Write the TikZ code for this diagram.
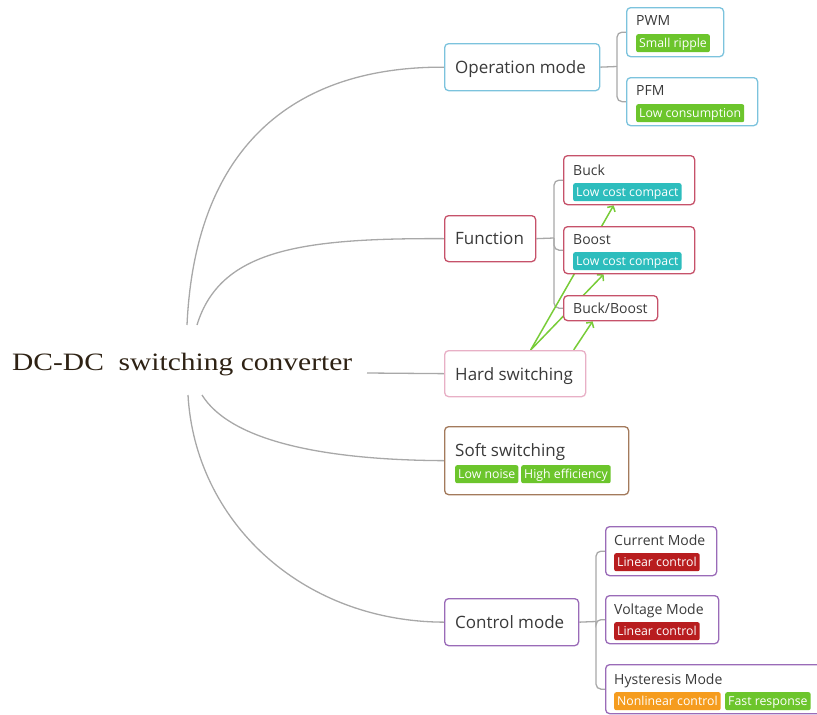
\documentclass[tikz,border=0pt]{standalone}
\usepackage{fontspec}
\setmainfont{Open Sans}
\newfontfamily\rootfont[FakeStretch=1.18]{Liberation Serif}
\usetikzlibrary{arrows.meta,calc}
\definecolor{conn}{HTML}{A8A8A8}
\definecolor{txt}{HTML}{3A3A3A}
\definecolor{roottxt}{HTML}{2E2214}
\definecolor{cblue}{HTML}{7CC3DD}
\definecolor{cred}{HTML}{C6526A}
\definecolor{cpink}{HTML}{E8B0C6}
\definecolor{cbrown}{HTML}{A37A5C}
\definecolor{cpurple}{HTML}{9A6BB8}
\definecolor{tgreen}{HTML}{6CC52C}
\definecolor{tteal}{HTML}{2DBDBD}
\definecolor{tred}{HTML}{B81D1F}
\definecolor{torange}{HTML}{F59C1E}
\definecolor{agreen}{HTML}{78CC38}
\pgfdeclarelayer{bg}
\pgfsetlayers{bg,main}
\begin{document}
\begin{tikzpicture}[x=1pt,y=-1pt,
  box/.style={draw=#1, line width=1.3pt, rounded corners=4pt, fill=white, anchor=north west, inner sep=0pt},
  maintxt/.style={font=\fontsize{17}{20}\selectfont, text=txt, anchor=base west, inner sep=0pt},
  subtxt/.style={font=\fontsize{14}{17}\selectfont, text=txt, anchor=base west, inner sep=0pt},
  tag/.style={fill=#1, text=white, rounded corners=2pt, anchor=north west, font=\fontsize{12.3}{14}\selectfont, inner xsep=3pt, inner ysep=0pt, text height=13pt, text depth=5pt},
  link/.style={draw=conn, line width=1.3pt},
  hsarrow/.style={draw=agreen, line width=1.5pt, -{Straight Barb[length=4pt,width=9pt,line width=1.5pt]}}
]
\useasboundingbox (0,0) rectangle (817,715);

% root
\node[anchor=base west, inner sep=0pt, text=roottxt, font=\rootfont\fontsize{25}{30}\selectfont] (root) at (12,370) {DC-DC\ \ switching converter};
\coordinate (r1) at (187,325);
\coordinate (r2) at (197,325);
\coordinate (r3) at (367,373);
\coordinate (r4) at (202,395);
\coordinate (r5) at (188,395);

% main boxes
\node[box=cblue, minimum width=155, minimum height=47] (op) at (444,43) {};
\node[maintxt] (opt) at (455,73) {Operation mode};
\node[box=cred, minimum width=91, minimum height=46] (fn) at (444,215) {};
\node[maintxt] (fnt) at (455,244) {Function};
\node[box=cpink, minimum width=141, minimum height=46] (hs) at (444,350) {};
\node[maintxt] (hst) at (455,380) {Hard switching};
\node[box=cbrown, minimum width=184, minimum height=68] (ss) at (444,426) {};
\node[maintxt] (sst) at (455,456) {Soft switching};
\node[tag=tgreen] (ss1) at (455,465) {Low noise};
\node[tag=tgreen] (ss2) at (521,465) {High efficiency};
\node[box=cpurple, minimum width=134, minimum height=47] (cm) at (444,598) {};
\node[maintxt] (cmt) at (455,628) {Control mode};

% operation mode children
\node[box=cblue, minimum width=97, minimum height=49] (pwm) at (626,7) {};
\node[subtxt] (pwmt) at (636,25) {PWM};
\node[tag=tgreen] (pwmg) at (636,34) {Small ripple};
\node[box=cblue, minimum width=131, minimum height=48] (pfm) at (626,77) {};
\node[subtxt] (pfmt) at (636,95) {PFM};
\node[tag=tgreen] (pfmg) at (636,104) {Low consumption};

% function children
\node[box=cred, minimum width=131, minimum height=49] (buck) at (563,155) {};
\node[subtxt] (buckt) at (573,175) {Buck};
\node[tag=tteal] (buckg) at (573,183) {Low cost compact};
\node[box=cred, minimum width=131, minimum height=47] (boost) at (563,226) {};
\node[subtxt] (boostt) at (573,244) {Boost};
\node[tag=tteal] (boostg) at (573,252) {Low cost compact};
\node[box=cred, minimum width=94, minimum height=25] (bb) at (563,295) {};
\node[subtxt] (bbt) at (573,313) {Buck/Boost};

% control mode children
\node[box=cpurple, minimum width=111, minimum height=49] (cur) at (605,526) {};
\node[subtxt] (curt) at (614,545) {Current Mode};
\node[tag=tred] (curg) at (614,553) {Linear control};
\node[box=cpurple, minimum width=113, minimum height=48] (vol) at (605,595) {};
\node[subtxt] (volt) at (614,614) {Voltage Mode};
\node[tag=tred] (volg) at (614,622) {Linear control};
\node[box=cpurple, minimum width=220, minimum height=49] (hys) at (605,664) {};
\node[subtxt] (hyst) at (614,684) {Hysteresis Mode};
\node[tag=torange] (hysg1) at (614,692) {Nonlinear control};
\node[tag=tgreen] (hysg2) at (725,692) {Fast response};

% junctions
\coordinate (opj) at (617,66.5);
\coordinate (fnj) at (554,238);
\coordinate (cmj) at (596,621.5);

\begin{pgfonlayer}{bg}
  % root curves
  \draw[link] (r1) .. controls (195,150) and (290,66.5) .. (op.west);
  \draw[link] (r2) .. controls (220,250) and (300,238) .. (fn.west);
  \draw[link] (r3) -- (hs.west);
  \draw[link] (r4) .. controls (230,440) and (320,460) .. (ss.west);
  \draw[link] (r5) .. controls (195,520) and (300,621.5) .. (cm.west);
  % brackets
  \draw[link] (op.east) -- (opj);
  \draw[link, rounded corners=5pt] (pwm.west) -| (opj) |- (pfm.west);
  \draw[link] (fn.east) -- (fnj);
  \draw[link, rounded corners=5pt] (buck.west) -| (fnj) |- (bb.west);
  \draw[link, rounded corners=5pt] (fnj) |- (boost.west);
  \draw[link] (cm.east) -- (cmj);
  \draw[link, rounded corners=5pt] (cur.west) -| (cmj) |- (hys.west);
  \draw[link, rounded corners=5pt] (cmj) |- (vol.west);
  % green arrows
  \draw[hsarrow] ($(hs.north)+(15.5,0)$) -- ($(buck.south)+(-15.5,0)$);
  \draw[hsarrow] ($(hs.north)+(15.5,0)$) -- ($(boost.south)+(-25.5,0)$);
  \draw[hsarrow] ($(hs.north)+(58.5,0)$) -- ($(bb.south)+(-18,0)$);
\end{pgfonlayer}
\end{tikzpicture}
\end{document}
